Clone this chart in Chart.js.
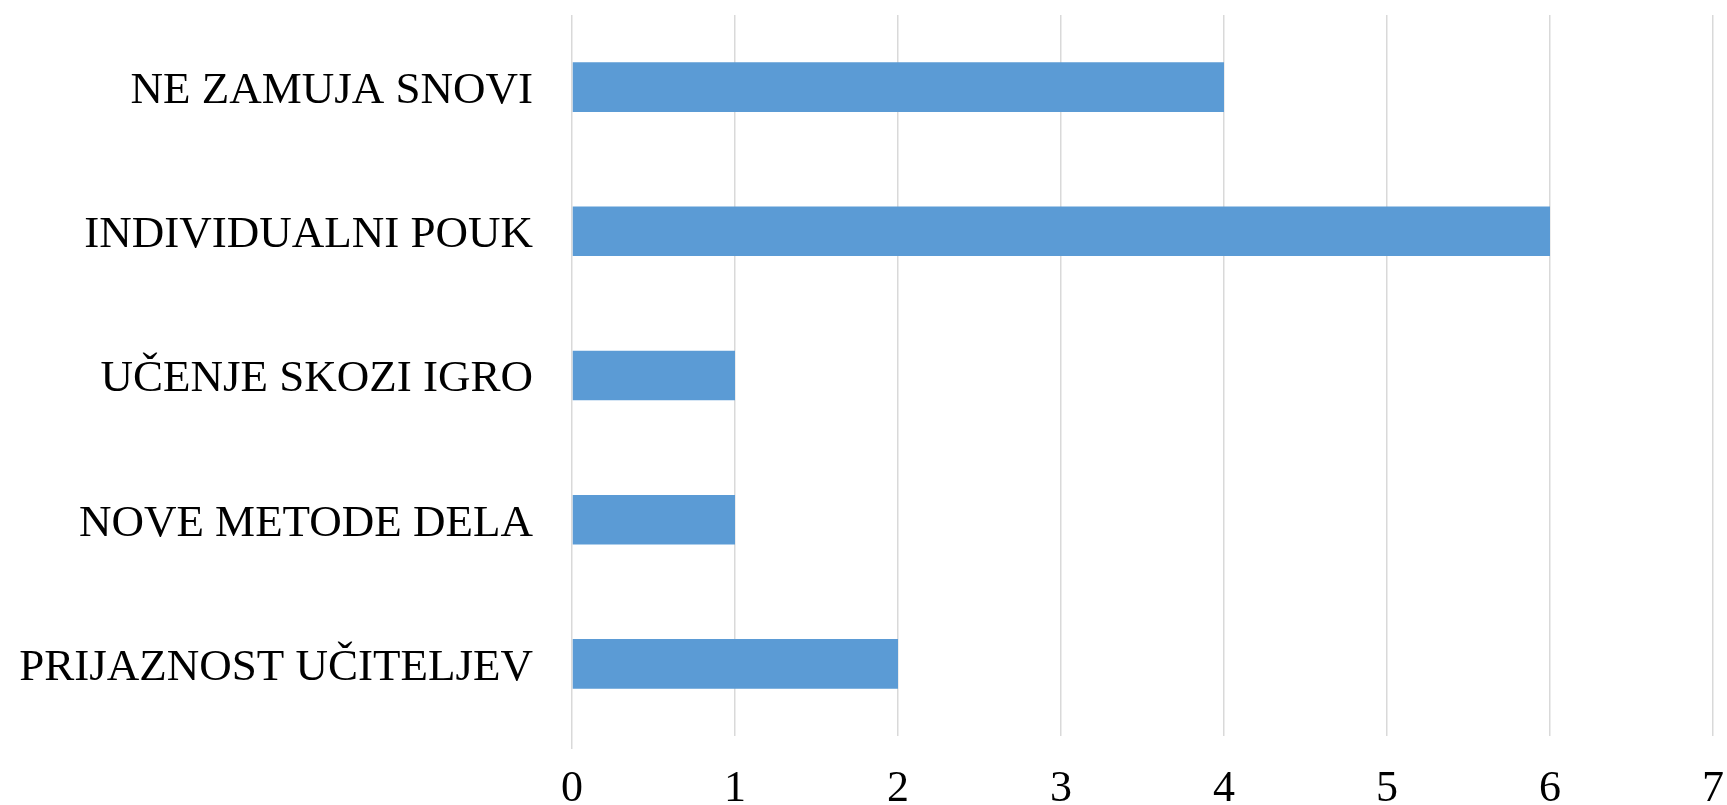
<!DOCTYPE html>
<html>
<head>
<meta charset="utf-8">
<script src="https://cdn.jsdelivr.net/npm/chart.js@4"></script>
<style>
  html, body { margin: 0; padding: 0; background: #fff; }
  #wrap { width: 1727px; height: 805px; }
</style>
</head>
<body>
<div id="wrap"><canvas id="chart" width="1727" height="805"></canvas></div>
<script>
// categories, top to bottom as in the picture
const categories = [
  "NE ZAMUJA SNOVI",
  "INDIVIDUALNI POUK",
  "UČENJE SKOZI IGRO",
  "NOVE METODE DELA",
  "PRIJAZNOST UČITELJEV"
];
const counts = [4, 6, 1, 1, 2];
const xTicks = [0, 1, 2, 3, 4, 5, 6, 7];

const serif = "'Liberation Serif', 'Times New Roman', serif";

const ctx = document.getElementById("chart");
new Chart(ctx, {
  type: "bar",
  data: {
    labels: categories,
    datasets: [{
      data: counts,
      backgroundColor: "#5B9BD5",
      borderWidth: 0,
      categoryPercentage: 1,
      barPercentage: 0.344
    }]
  },
  options: {
    indexAxis: "y",
    responsive: false,
    animation: false,
    layout: { padding: { top: 15, right: 14, left: 0, bottom: 0 } },
    plugins: { legend: { display: false }, tooltip: { enabled: false } },
    scales: {
      x: {
        min: xTicks[0],
        max: xTicks[xTicks.length - 1],
        afterBuildTicks: s => { s.ticks = xTicks.map(v => ({ value: v })); },
        border: { display: false },
        grid: {
          color: "#d9d9d9",
          lineWidth: 1.5,
          drawTicks: true,
          tickLength: 13,
          tickColor: c => (c.index === 0 ? "#d9d9d9" : "rgba(0,0,0,0)")
        },
        ticks: {
          color: "#000",
          padding: 14,
          font: { family: serif, size: 44 }
        },
        afterFit: s => {
          s.height = 69;
          s.paddingLeft = 0;
          s.paddingRight = 0;
        }
      },
      y: {
        border: { display: false },
        grid: { display: false },
        ticks: {
          color: "#000",
          padding: 31,
          labelOffset: 4,
          font: { family: serif, size: 45 }
        },
        afterFit: s => {
          s.width = 572;
          s.paddingTop = 0;
          s.paddingBottom = 0;
        }
      }
    }
  }
});
</script>
</body>
</html>
